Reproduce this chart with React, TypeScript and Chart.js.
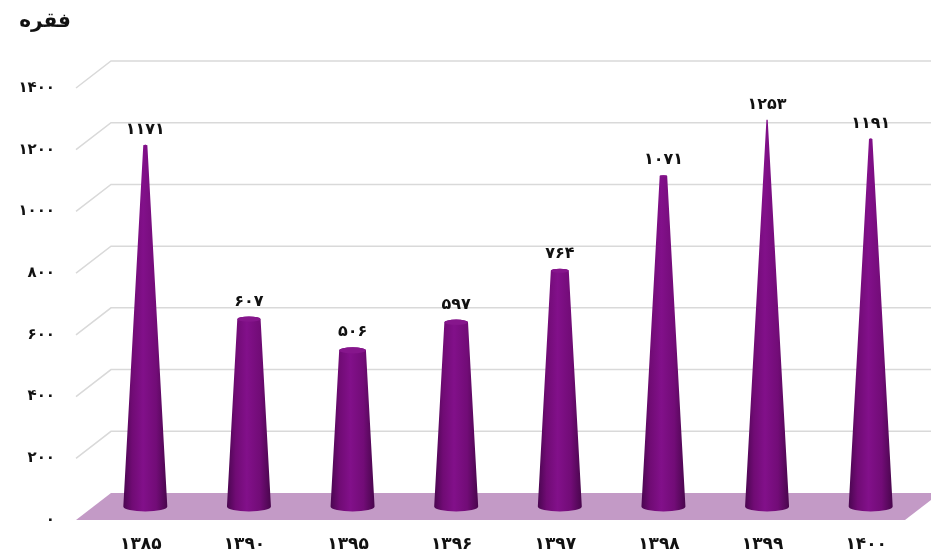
import React, { useEffect, useRef } from 'react';
import { Chart, registerables } from 'chart.js';

Chart.register(...registerables);

const categories = ['۱۳۸۵', '۱۳۹۰', '۱۳۹۵', '۱۳۹۶', '۱۳۹۷', '۱۳۹۸', '۱۳۹۹', '۱۴۰۰'];
const values = [1171, 607, 506, 597, 764, 1071, 1253, 1191];
const valueLabels = ['۱۱۷۱', '۶۰۷', '۵۰۶', '۵۹۷', '۷۶۴', '۱۰۷۱', '۱۲۵۳', '۱۱۹۱'];
const yTicks = [0, 200, 400, 600, 800, 1000, 1200, 1400];
const yTickLabels = ['۰', '۲۰۰', '۴۰۰', '۶۰۰', '۸۰۰', '۱۰۰۰', '۱۲۰۰', '۱۴۰۰'];
const axisTitle = 'فقره';

const FONT = '"DejaVu Sans", sans-serif';
const DX = 35;
const DY = 27;

const threeD = {
  id: 'threeD',
  beforeDatasetsDraw(chart: any) {
    const { ctx, chartArea, scales } = chart;
    const y = scales.y;
    ctx.save();
    // gridlines on side + back walls
    ctx.strokeStyle = '#d9d9d9';
    ctx.lineWidth = 1.5;
    yTicks.forEach((v) => {
      if (v === 0) return;
      const yy = y.getPixelForValue(v);
      ctx.beginPath();
      ctx.moveTo(chartArea.left, yy);
      ctx.lineTo(chartArea.left + DX, yy - DY);
      ctx.lineTo(chart.width, yy - DY);
      ctx.stroke();
    });
    // floor
    const y0 = y.getPixelForValue(0);
    ctx.fillStyle = '#c39ac6';
    ctx.beginPath();
    ctx.moveTo(chartArea.left, y0);
    ctx.lineTo(chartArea.right, y0);
    ctx.lineTo(chartArea.right + DX, y0 - DY);
    ctx.lineTo(chartArea.left + DX, y0 - DY);
    ctx.closePath();
    ctx.fill();

    // cones
    const meta = chart.getDatasetMeta(0);
    const apex = Math.max(...values) * 1.03;
    ctx.font = `bold 16px ${FONT}`;
    ctx.textAlign = 'center';
    ctx.textBaseline = 'middle';
    meta.data.forEach((el: any, i: number) => {
      const cx = el.x + DX / 2;
      const yb = y0 - DY / 2;
      const yt = el.y - DY / 2;
      const rb = 22;
      const ryb = 5;
      const rt = rb * (1 - values[i] / apex);
      const ryt = Math.max(ryb * rt / rb, 0.01);
      const g = ctx.createLinearGradient(cx - rb, 0, cx + rb, 0);
      g.addColorStop(0, '#4a0650');
      g.addColorStop(0.2, '#700b74');
      g.addColorStop(0.45, '#82108a');
      g.addColorStop(0.75, '#720c77');
      g.addColorStop(1, '#48064c');
      ctx.fillStyle = g;
      ctx.beginPath();
      ctx.moveTo(cx - rt, yt);
      ctx.lineTo(cx - rb, yb);
      ctx.ellipse(cx, yb, rb, ryb, 0, Math.PI, 0, true);
      ctx.lineTo(cx + rt, yt);
      if (rt > 0.5) ctx.ellipse(cx, yt, rt, ryt, 0, 0, Math.PI, true);
      ctx.closePath();
      ctx.fill();
      if (rt > 1) {
        ctx.fillStyle = '#86168c';
        ctx.beginPath();
        ctx.ellipse(cx, yt, rt, ryt, 0, 0, Math.PI * 2);
        ctx.fill();
      }
      ctx.fillStyle = '#111111';
      ctx.fillText(valueLabels[i], cx, yt - ryt - 15);
    });
    ctx.restore();
  },
  afterDraw(chart: any) {
    const { ctx } = chart;
    ctx.save();
    ctx.font = `bold 20px ${FONT}`;
    ctx.fillStyle = '#111111';
    ctx.textAlign = 'center';
    ctx.textBaseline = 'middle';
    ctx.direction = 'rtl';
    ctx.fillText(axisTitle, 45, 22);
    ctx.restore();
  },
};

export default function App() {
  const ref = useRef<HTMLCanvasElement>(null);
  useEffect(() => {
    if (!ref.current) return;
    const chart = new Chart(ref.current, {
      type: 'bar',
      data: {
        labels: categories,
        datasets: [
          {
            data: values,
            backgroundColor: 'rgba(0,0,0,0)',
            borderWidth: 0,
          },
        ],
      },
      options: {
        animation: false,
        responsive: true,
        maintainAspectRatio: false,
        layout: { padding: { top: 88, right: 26, left: 0, bottom: 0 } },
        plugins: {
          legend: { display: false },
          tooltip: { enabled: false },
          title: { display: false },
        },
        scales: {
          x: {
            grid: { display: false, drawTicks: false },
            border: { display: false },
            ticks: {
              color: '#111111',
              font: { family: FONT, size: 17, weight: 'bold' },
              padding: 14,
              labelOffset: 13,
              maxRotation: 0,
            },
            afterFit: (s: any) => {
              s.height = 40;
            },
          },
          y: {
            min: 0,
            max: 1400,
            grid: { display: false, drawTicks: false },
            border: { display: false },
            ticks: {
              stepSize: 200,
              color: '#111111',
              font: { family: FONT, size: 15, weight: 'bold' },
              padding: 21,
              callback: (v: any) => {
                const idx = yTicks.indexOf(Number(v));
                return idx >= 0 ? yTickLabels[idx] : '';
              },
            },
            afterFit: (s: any) => {
              s.width = 76;
            },
          },
        },
      },
      plugins: [threeD],
    });
    return () => chart.destroy();
  }, []);
  return (
    <div style={{ position: 'absolute', left: 0, top: 0, width: 931, height: 560, background: '#ffffff' }}>
      <canvas ref={ref} />
    </div>
  );
}
